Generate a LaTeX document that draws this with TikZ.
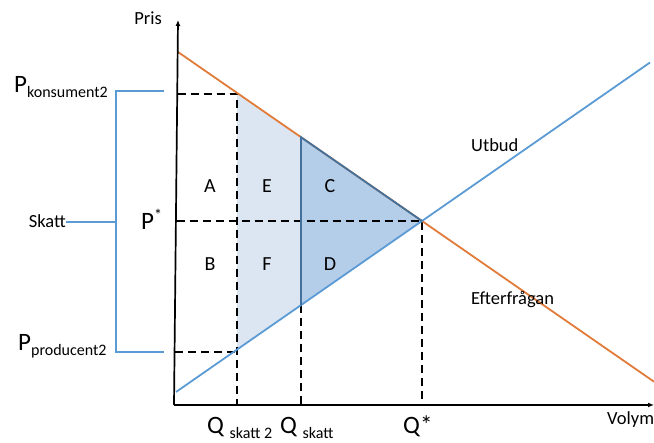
\documentclass[tikz,border=0pt]{standalone}
\usepackage{fontspec}
\setmainfont{Carlito}
\usetikzlibrary{arrows.meta,positioning,calc}
\definecolor{CurveOrange}{HTML}{E07B39}
\definecolor{CurveBlue}{HTML}{5B9BD5}
\definecolor{EdgeBlue}{HTML}{41719C}
\definecolor{PaleBlue}{HTML}{DCE6F2}
\definecolor{MidBlue}{HTML}{B4CDE8}
\newcommand{\lowtxt}[2]{{\fontsize{16}{19}\selectfont\raisebox{#1}{#2}}}
\tikzset{
  axis/.style={-{Latex[length=6pt,width=5pt]}, line width=1.7pt, draw=black},
  demand/.style={line width=1.8pt, draw=CurveOrange},
  supply/.style={line width=1.8pt, draw=CurveBlue},
  guide/.style={dash pattern=on 8pt off 5pt, line width=2pt, draw=black},
  bracket/.style={line width=2pt, draw=CurveBlue},
  tag/.style={font=\fontsize{18.5}{22}\selectfont, inner sep=0pt},
  area/.style={font=\fontsize{20}{24}\selectfont, inner sep=0pt},
  big/.style={font=\fontsize{25}{30}\selectfont, inner sep=0pt, anchor=base west},
}
\begin{document}
\begin{tikzpicture}[x=1pt,y=-1pt]
  \useasboundingbox (0,0) rectangle (654,443);
  % axes and curves
  \coordinate (O) at (174,405);
  \coordinate (ytop) at (178,20);
  \coordinate (xend) at (654,405);
  \coordinate (d0) at (178,52);
  \coordinate (d1) at (654,381.7);
  \coordinate (s0) at (176,392);
  \coordinate (s1) at (650,62.5);
  \coordinate (eq) at (422,221);
  % points at the taxed quantities
  \coordinate (k2) at (237,93);
  \coordinate (ks) at (301,137.2);
  \coordinate (ps) at (301,305.1);
  \coordinate (p2) at (237,349.6);
  % guide ends
  \coordinate (pk) at (177.6,94);
  \coordinate (pkc) at (237,94);
  \coordinate (pp) at (175,352);
  \coordinate (ppc) at (237,352);
  \coordinate (pst) at (176.5,221);
  \coordinate (qs2) at (237,405);
  \coordinate (qs) at (301,405);
  \coordinate (qst) at (422,405);

  \fill[PaleBlue] (k2) -- (ks) -- (ps) -- (p2) -- cycle;
  \fill[MidBlue] (ks) -- (eq) -- (ps) -- cycle;

  \draw[guide] (pk) -- (pkc) -- (qs2);
  \draw[guide] (pp) -- (ppc);
  \draw[guide] (pst) -- (eq) -- (qst);
  \draw[guide] (ps) -- (qs);

  \draw[demand] (d0) -- (d1);
  \draw[supply] (s0) -- (s1);
  \draw[line width=1.8pt, draw=EdgeBlue] (eq) -- (ks) -- (ps);

  \draw[axis] (O) -- (ytop);
  \draw[axis] (O) -- (xend);

  % tax bracket
  \node[tag,anchor=base east] (skatt) at (66,228) {Skatt};
  \coordinate (bt) at (116,91);
  \coordinate (bb) at (116,352);
  \coordinate (bm) at (116,222);
  \draw[bracket] (164,91) -- (bt) -- (bb) -- (164,352);
  \draw[bracket] (bm) -- (skatt.east |- bm);

  % labels
  \node[tag] (pris) at (148,18) {Pris};
  \node[tag,anchor=base west] (volym) at (607,425) {Volym};
  \node[tag,anchor=base west] (utbud) at (471,152) {Utbud};
  \node[tag,anchor=base west] (efter) at (471,305) {Efterfrågan};
  \node[big] (pkon) at (14,93) {P\lowtxt{-5pt}{konsument2}};
  \node[big] (ppro) at (18,351) {P\lowtxt{-5pt}{producent2}};
  \node[big] (pstar) at (141,230) {P\lowtxt{9pt}{*}};
  \node[big] (qsk2) at (207,434) {Q \lowtxt{-4.5pt}{skatt 2}};
  \node[big] (qsk) at (280,434) {Q \lowtxt{-4.5pt}{skatt}};
  \node[big] (qstar) at (403,434) {Q*};

  \node[area] (a) at (210,186) {A};
  \node[area] (e) at (267,186) {E};
  \node[area] (c) at (330,186) {C};
  \node[area] (b) at (210,264) {B};
  \node[area] (f) at (267,264) {F};
  \node[area] (d) at (330,264) {D};
\end{tikzpicture}
\end{document}
